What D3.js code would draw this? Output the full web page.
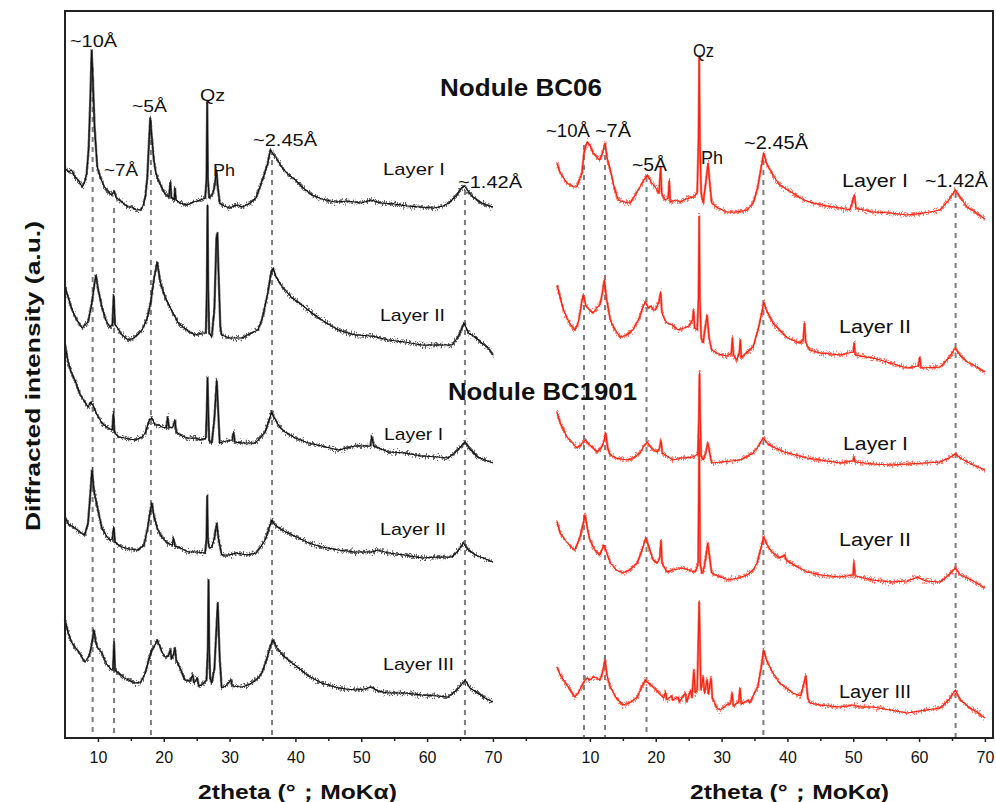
<!DOCTYPE html>
<html><head><meta charset="utf-8">
<script src="https://cdn.jsdelivr.net/npm/d3@7"></script>
<style>body{margin:0;background:#fff}</style>
</head><body><svg id="c" width="996" height="802"></svg>
<script>
// ---------- DATA (2theta in degrees, stacked diffracted intensity in a.u.) ----------
const bc06_L1_black = [[5.0,570],[5.5,566],[6.0,568],[6.5,561],[7.0,558],[7.6,551],[8.0,556],[8.3,565],[8.6,590],[8.85,640],[9.05,688],[9.25,655],[9.5,610],[9.9,571],[10.4,560],[11.0,551],[11.6,546],[12.1,543],[12.45,547],[12.8,540],[13.5,537],[14.0,534],[14.6,531],[15.2,531],[15.8,528],[16.5,528],[16.9,533],[17.2,541],[17.5,560],[17.75,595],[17.95,620],[18.2,600],[18.5,578],[18.8,565],[19.3,556],[20.1,545],[20.8,541],[21.0,556],[21.15,541],[21.6,538],[21.7,550],[21.85,538],[22.5,535],[23.5,533],[24.5,536],[25.6,538],[26.3,540],[26.5,560],[26.6,636],[26.7,560],[26.9,540],[27.5,545],[27.8,555],[28.0,568],[28.2,552],[28.5,535],[29.2,532],[30.0,530],[31.0,533],[32.0,531],[33.1,535],[34.0,540],[34.6,551],[35.2,562],[35.8,575],[36.2,588],[36.6,584],[37.1,580],[38.0,570],[39.0,563],[40.0,558],[41.2,550],[42.5,543],[44.0,539],[46.0,536],[48.0,537],[50.0,535],[51.5,538],[53.0,535],[55.0,534],[57.0,532],[59.0,531],[61.0,530],[62.5,532],[63.5,536],[64.5,543],[65.2,550],[65.7,552],[66.3,546],[67.0,541],[68.0,536],[69.0,533],[70.0,531]];
const bc06_L2_black = [[5.0,452],[5.5,440],[6.0,430],[6.5,422],[7.0,416],[7.6,410],[8.0,413],[8.5,416],[9.0,432],[9.4,450],[9.7,463],[10.0,450],[10.6,431],[11.2,418],[11.8,411],[12.2,413],[12.4,443],[12.6,413],[12.9,411],[13.5,404],[14.6,398],[15.5,400],[16.7,408],[17.5,420],[18.0,435],[18.5,458],[19.0,476],[19.5,455],[20.2,441],[21.0,430],[22.2,415],[23.5,408],[24.7,403],[25.8,405],[26.4,405],[26.55,450],[26.65,533],[26.75,450],[26.9,405],[27.3,401],[27.7,430],[28.0,500],[28.15,505],[28.3,470],[28.6,410],[28.8,403],[30.0,400],[31.9,400],[33.0,404],[34.3,408],[35.0,420],[35.8,445],[36.3,465],[36.6,470],[37.0,462],[38.0,451],[39.5,440],[41.0,433],[42.5,425],[44.0,418],[46.5,408],[49.1,403],[51.6,402],[54.1,398],[56.6,396],[59.2,393],[61.7,393],[63.8,393],[64.8,402],[65.6,415],[66.3,405],[67.3,401],[68.3,395],[69.3,390],[70.0,383]];
const bc1901_L1_black = [[5.0,393],[5.5,375],[6.0,365],[6.5,358],[7.2,345],[8.0,336],[8.5,331],[8.9,336],[9.3,332],[9.8,324],[10.6,315],[11.5,310],[12.2,308],[12.35,325],[12.5,306],[13.1,301],[14.0,300],[15.6,298],[16.7,301],[17.2,305],[17.8,318],[18.2,320],[18.7,313],[19.3,313],[19.7,311],[20.4,310],[20.6,321],[20.8,310],[21.4,311],[21.7,318],[21.9,306],[22.8,302],[23.7,300],[24.7,300],[25.8,298],[26.4,300],[26.55,330],[26.65,360],[26.75,330],[26.9,297],[27.3,295],[27.7,320],[28.05,358],[28.25,330],[28.5,295],[29.5,297],[30.4,298],[30.6,306],[30.8,296],[32.0,295],[33.9,295],[34.6,300],[35.4,306],[36.0,318],[36.4,326],[36.8,320],[37.5,312],[38.4,306],[40.0,300],[41.9,295],[44.0,292],[46.5,288],[49.0,292],[51.4,292],[51.6,302],[51.9,292],[54.1,286],[56.6,285],[59.2,282],[61.7,281],[63.2,280],[64.5,287],[65.8,296],[66.5,289],[67.7,281],[68.8,278],[70.0,275]];
const bc1901_L2_black = [[5.0,221],[5.5,214],[6.0,212],[6.5,210],[7.2,206],[8.0,203],[8.5,215],[8.8,240],[9.1,268],[9.4,248],[9.9,231],[10.6,210],[11.2,203],[11.8,198],[12.2,199],[12.4,211],[12.6,196],[13.1,193],[13.7,191],[14.8,189],[16.1,188],[17.0,193],[17.5,208],[17.9,225],[18.2,235],[18.5,222],[19.1,208],[19.8,200],[20.6,195],[21.3,193],[21.5,200],[21.7,192],[22.5,190],[23.7,186],[25.0,186],[26.3,185],[26.5,200],[26.6,243],[26.7,200],[26.9,190],[27.3,191],[27.7,200],[28.05,215],[28.3,200],[28.8,183],[30.0,183],[31.0,185],[32.8,183],[34.0,185],[34.8,192],[35.4,198],[36.0,210],[36.4,218],[36.9,213],[38.0,208],[38.9,205],[40.5,200],[42.0,195],[44.0,191],[46.5,188],[49.1,186],[51.6,186],[52.5,188],[54.1,185],[56.6,183],[59.2,180],[61.7,181],[63.8,181],[64.8,188],[65.5,195],[66.3,188],[67.3,183],[68.5,180],[70.0,176]];
const bc1901_L3_black = [[5.0,118],[5.5,105],[6.0,96],[6.5,91],[7.3,84],[8.0,76],[8.5,80],[8.8,85],[9.1,95],[9.4,108],[9.7,95],[10.0,90],[10.6,85],[11.3,74],[12.1,68],[12.3,70],[12.45,95],[12.6,68],[13.1,65],[14.0,60],[15.6,55],[16.5,56],[17.2,65],[17.7,78],[18.2,88],[18.6,92],[19.0,98],[19.4,92],[19.8,85],[20.2,81],[20.7,82],[21.0,88],[21.2,79],[21.5,84],[21.7,90],[21.9,78],[22.6,68],[23.2,58],[24.0,57],[24.4,63],[24.6,55],[25.1,60],[25.3,52],[25.8,53],[26.5,58],[26.7,90],[26.8,158],[26.9,90],[27.05,60],[27.3,55],[27.7,70],[28.2,135],[28.5,80],[28.8,50],[29.4,52],[30.2,58],[30.4,52],[31.9,51],[32.8,53],[33.6,56],[34.3,60],[34.9,65],[35.6,78],[36.2,92],[36.6,98],[37.2,90],[37.9,84],[38.9,78],[40.5,70],[42.0,62],[44.0,55],[46.5,50],[49.1,48],[50.5,49],[51.6,51],[52.5,47],[54.1,45],[56.6,45],[59.2,43],[61.7,42],[63.2,41],[64.5,48],[65.8,58],[66.5,50],[67.7,45],[68.8,40],[70.0,36]];

const bc06_L1_red = [[5.0,575],[5.5,565],[6.0,560],[6.5,555],[7.0,553],[7.5,551],[8.0,551],[8.5,560],[8.8,565],[9.1,585],[9.55,596],[10.0,593],[10.5,585],[10.8,583],[11.2,580],[11.5,578],[11.9,585],[12.3,595],[12.6,580],[13.1,568],[13.6,553],[14.3,538],[15.2,536],[16.1,535],[16.9,543],[17.6,551],[18.2,558],[18.7,563],[19.3,556],[19.9,551],[20.5,545],[20.75,571],[20.9,545],[21.4,538],[21.9,540],[22.05,558],[22.2,536],[23.0,538],[23.7,536],[24.6,539],[25.7,541],[26.3,545],[26.5,600],[26.6,680],[26.7,600],[26.9,545],[27.2,535],[27.6,555],[27.95,575],[28.2,555],[28.5,535],[29.5,530],[30.8,526],[32.3,526],[33.9,528],[34.8,535],[35.5,551],[36.0,570],[36.4,585],[36.8,575],[37.8,563],[38.8,553],[40.8,545],[42.5,538],[43.9,535],[46.0,532],[48.0,530],[49.5,528],[50.2,543],[50.4,530],[51.5,528],[53.0,526],[55.6,525],[58.2,523],[60.8,525],[63.2,528],[64.5,538],[65.5,548],[66.3,540],[67.3,531],[68.5,526],[70.0,519]];
const bc06_L2_red = [[5.0,453],[5.5,440],[6.0,428],[6.5,420],[7.0,414],[7.7,408],[8.2,415],[8.5,425],[8.8,438],[9.0,443],[9.4,432],[9.9,428],[10.5,425],[11.0,430],[11.5,433],[11.9,445],[12.2,458],[12.5,440],[13.1,418],[13.8,408],[14.6,401],[15.6,403],[16.5,408],[17.5,420],[18.0,430],[18.4,436],[18.9,430],[19.3,432],[19.6,428],[19.9,428],[20.5,436],[20.75,446],[20.95,425],[21.4,418],[21.7,415],[22.5,413],[23.4,408],[24.3,410],[25.0,412],[25.6,418],[25.75,428],[25.9,410],[26.3,408],[26.5,440],[26.6,522],[26.7,440],[26.9,400],[27.2,395],[27.5,410],[27.8,423],[28.1,400],[28.5,388],[29.5,384],[30.8,382],[31.5,385],[31.65,400],[31.8,383],[32.3,378],[32.7,385],[32.85,398],[33.0,380],[33.9,386],[34.8,391],[35.6,410],[36.1,425],[36.4,436],[36.8,428],[37.8,415],[38.8,408],[40.0,400],[41.9,395],[42.4,398],[42.6,415],[42.8,395],[43.4,388],[45.0,385],[48.0,383],[50.0,386],[50.15,395],[50.3,383],[52.0,381],[53.0,380],[55.6,375],[58.2,370],[59.9,372],[60.1,381],[60.3,370],[63.2,371],[64.5,380],[65.5,390],[66.3,382],[67.3,376],[68.5,372],[70.0,366]];
const bc1901_L1_red = [[5.0,326],[5.5,315],[6.0,308],[6.5,301],[7.2,296],[8.0,290],[8.6,293],[9.3,298],[9.8,294],[10.5,290],[11.1,286],[11.7,290],[12.1,296],[12.4,305],[12.7,290],[13.1,283],[14.0,280],[15.6,278],[16.6,280],[17.6,285],[18.2,292],[18.7,296],[19.3,290],[20.2,286],[20.6,290],[20.8,298],[21.0,285],[22.6,278],[24.0,280],[25.7,281],[26.4,284],[26.55,320],[26.65,365],[26.75,320],[26.9,282],[27.2,278],[27.6,285],[27.9,295],[28.2,285],[28.5,275],[30.0,276],[32.8,278],[34.0,282],[34.8,285],[35.6,292],[36.1,298],[36.4,300],[36.9,295],[37.8,291],[39.5,286],[43.0,280],[46.0,277],[48.0,275],[50.0,277],[50.1,281],[50.3,276],[53.0,274],[55.6,273],[58.2,274],[61.0,275],[63.2,276],[64.5,280],[65.5,284],[66.5,279],[68.2,273],[70.0,268]];
const bc1901_L2_red = [[5.0,216],[5.5,205],[6.2,198],[7.0,192],[7.7,188],[8.5,201],[9.0,215],[9.25,223],[9.6,210],[10.0,198],[10.5,191],[11.0,186],[11.5,183],[12.1,193],[12.4,188],[13.1,175],[14.0,168],[15.0,165],[16.0,168],[17.2,175],[17.9,188],[18.5,200],[19.0,190],[19.6,178],[20.2,175],[20.6,180],[20.8,198],[20.95,175],[21.7,166],[22.6,168],[24.1,170],[25.0,168],[26.0,166],[26.45,175],[26.6,298],[26.75,175],[27.0,165],[27.2,166],[27.6,180],[27.9,195],[28.2,180],[28.5,165],[29.5,162],[31.0,158],[32.5,160],[33.9,163],[34.8,168],[35.4,175],[35.9,188],[36.4,201],[36.9,193],[37.8,185],[38.8,180],[39.6,183],[39.8,178],[41.0,173],[43.0,166],[45.0,163],[48.0,161],[50.0,163],[50.1,176],[50.3,162],[53.0,158],[55.6,156],[58.2,157],[59.8,161],[61.0,157],[63.2,156],[64.5,163],[65.5,170],[66.3,163],[67.3,160],[68.5,156],[70.0,150]];
const bc1901_L3_red = [[5.0,71],[5.5,63],[6.0,58],[6.5,53],[7.2,46],[7.7,41],[8.2,45],[8.6,50],[9.0,55],[9.5,60],[10.0,58],[10.5,61],[11.0,60],[11.5,58],[11.9,65],[12.3,78],[12.6,62],[13.1,51],[14.0,40],[15.0,33],[16.0,35],[17.2,41],[17.8,50],[18.4,58],[18.7,56],[19.3,53],[19.8,50],[20.5,45],[21.2,40],[21.5,46],[21.7,38],[22.4,42],[22.6,38],[23.4,41],[23.6,36],[24.5,45],[24.7,36],[25.3,48],[25.5,40],[25.8,68],[26.0,45],[26.3,48],[26.6,136],[26.85,48],[27.2,61],[27.4,45],[27.8,58],[28.0,44],[28.4,60],[28.6,40],[29.3,30],[29.8,28],[30.8,33],[31.4,35],[31.6,45],[31.8,32],[32.6,36],[32.8,50],[33.0,34],[34.0,38],[34.3,35],[35.0,45],[35.5,51],[36.0,70],[36.4,88],[36.8,78],[37.8,65],[38.8,55],[39.8,50],[40.8,45],[42.0,42],[42.8,62],[43.1,40],[43.4,35],[45.0,33],[48.0,31],[50.0,33],[51.0,31],[53.0,31],[55.6,28],[58.2,25],[60.0,27],[63.2,30],[64.5,38],[65.5,48],[66.3,38],[67.7,30],[68.8,26],[70.0,20]];

const leftSeries = [bc06_L1_black, bc06_L2_black, bc1901_L1_black, bc1901_L2_black, bc1901_L3_black];
const rightSeries = [bc06_L1_red, bc06_L2_red, bc1901_L1_red, bc1901_L2_red, bc1901_L3_red];

const majorTicks = [10, 20, 30, 40, 50, 60, 70];
const minorTicksLeft = [15, 25, 35, 45, 55, 65, 75];
const minorTicksRight = [15, 25, 35, 45, 55, 65];

// reference d-spacing lines: position (deg) and top intensity
const refLeftDeg = [9.2, 12.45, 18.05, 36.45, 65.75];
const refLeftTop = [671, 530, 618, 578, 548];
const refRightDeg = [9.1, 12.3, 18.6, 36.35, 65.55];
const refRightTop = [593, 593, 561, 578, 545];

// annotations: [text, deg, intensity, width]
const labelsLeft = [["~10Å",5.76,691,47],["~7Å",10.92,562,34],["~5Å",15.18,626,35],["Qz",25.5,637,25],["Ph",27.48,562,22],["~2.45Å",33.56,592,64],["~1.42Å",64.7,550,64],
  ["Layer I",53.3,563,62],["Layer II",52.85,417,65],["Layer I",53.46,298,59],["Layer II",52.85,203,66],["Layer III",53.3,68,71]];
const labelsRight = [["~10Å",3.33,601,44],["~7Å",10.77,601,36],["~5Å",16.39,567,35],["Qz",25.66,681,21],["Ph",26.87,574,22],["~2.45Å",33.41,589,64],["~1.42Å",60.9,551,63],
  ["Layer I",48.29,551,66],["Layer II",47.84,405,72],["Layer I",48.45,288,65],["Layer II",47.84,192,72],["Layer III",47.84,40,72]];
const titles = [["Nodule BC06",61.97,642,162],["Nodule BC1901",63.18,338,189]];

const xTitle = "2theta (°；MoKα)";
const yTitle = "Diffracted intensity (a.u.)";

// ---------- CHART ----------
const svg = d3.select("#c");
const F = "'Liberation Sans', Arial, Helvetica, sans-serif";
const frame = {l:65, r:993, t:11, b:738};
const xL = d3.scaleLinear().domain([5, 79.58]).range([65, 556]);
const xR = d3.scaleLinear().domain([5, 71.23]).range([557, 993]);
const y = d3.scaleLinear().domain([0, 727]).range([738, 11]);

// rendering texture for the noisy diffraction band (visual style only, vertical jitter)
const defs = svg.append("defs");
const flt = defs.append("filter").attr("id","fuzz").attr("x","-2%").attr("y","-10%").attr("width","104%").attr("height","120%");
flt.append("feTurbulence").attr("type","fractalNoise").attr("baseFrequency","1.1 0.4").attr("numOctaves",2).attr("seed",4).attr("result","n");
flt.append("feColorMatrix").attr("in","n").attr("type","matrix")
  .attr("values","0 0 0 0 0.5  0 1 0 0 0  0 0 1 0 0  0 0 0 0 1").attr("result","n2");
flt.append("feDisplacementMap").attr("in","SourceGraphic").attr("in2","n2").attr("scale",10).attr("xChannelSelector","R").attr("yChannelSelector","G");

function refLines(x, degs, tops){
  svg.append("g").selectAll("line").data(degs).join("line")
    .attr("x1", d=>x(d)).attr("x2", d=>x(d))
    .attr("y1", (d,i)=>y(tops[i])).attr("y2", y(0))
    .attr("stroke", "#7d7d7d").attr("stroke-width", 2).attr("stroke-dasharray", "5,5");
}
refLines(xL, refLeftDeg, refLeftTop);
refLines(xR, refRightDeg, refRightTop);

function traces(x, series, main, halo){
  const line = d3.line().x(d=>x(d[0])).y(d=>y(d[1]));
  const g = svg.append("g").attr("fill","none").attr("stroke-linejoin","round");
  g.selectAll("path.h").data(series).join("path").attr("class","h")
    .attr("d", line).attr("stroke", halo).attr("stroke-width", 2.4).attr("opacity", 0.75)
    .attr("filter","url(#fuzz)");
  g.selectAll("path.m").data(series).join("path").attr("class","m")
    .attr("d", line).attr("stroke", main).attr("stroke-width", 1.1);
}
traces(xL, leftSeries, "#111", "#333");
traces(xR, rightSeries, "#f5220f", "#ff4a35");

// frame
svg.append("rect").attr("x", frame.l).attr("y", frame.t)
  .attr("width", frame.r-frame.l).attr("height", frame.b-frame.t)
  .attr("fill","none").attr("stroke","#222").attr("stroke-width",2);

function axis(x, minors){
  const g = svg.append("g").attr("transform", `translate(0,${frame.b})`);
  g.call(d3.axisBottom(x).tickValues(majorTicks).tickFormat(d3.format("d")).tickSizeInner(4).tickSizeOuter(0).tickPadding(10));
  g.select(".domain").remove();
  g.selectAll("text").attr("font-family", F).attr("font-size", 16).attr("fill","#111");
  g.selectAll("line").attr("stroke","#222").attr("stroke-width",1.5);
  const gm = svg.append("g").attr("transform", `translate(0,${frame.b})`);
  gm.call(d3.axisBottom(x).tickValues(minors).tickFormat("").tickSizeInner(3).tickSizeOuter(0));
  gm.select(".domain").remove();
  gm.selectAll("line").attr("stroke","#222").attr("stroke-width",1.5);
}
axis(xL, minorTicksLeft);
axis(xR, minorTicksRight);

function labels(x, arr, size, weight){
  svg.append("g").selectAll("text").data(arr).join("text")
    .attr("x", d=>x(d[1])).attr("y", d=>y(d[2]))
    .attr("textLength", d=>d[3]).attr("lengthAdjust","spacingAndGlyphs")
    .attr("font-family", F).attr("font-size", size).attr("font-weight", weight).attr("fill","#111")
    .text(d=>d[0]);
}
labels(xL, labelsLeft, 17, "normal");
labels(xR, labelsRight, 18, "normal");
labels(xL, titles, 23, "bold");

// axis titles
[[xL,198],[xR,690]].forEach(([x,px])=>{
  svg.append("text").attr("x", px).attr("y", 799).attr("textLength",199).attr("lengthAdjust","spacingAndGlyphs")
    .attr("font-family", F).attr("font-size", 20).attr("font-weight","bold").attr("fill","#111").text(xTitle);
});
svg.append("text").attr("transform","translate(40,376) rotate(-90)").attr("text-anchor","middle")
  .attr("textLength",310).attr("lengthAdjust","spacingAndGlyphs")
  .attr("font-family", F).attr("font-size", 21).attr("font-weight","bold").attr("fill","#111").text(yTitle);
</script></body></html>
